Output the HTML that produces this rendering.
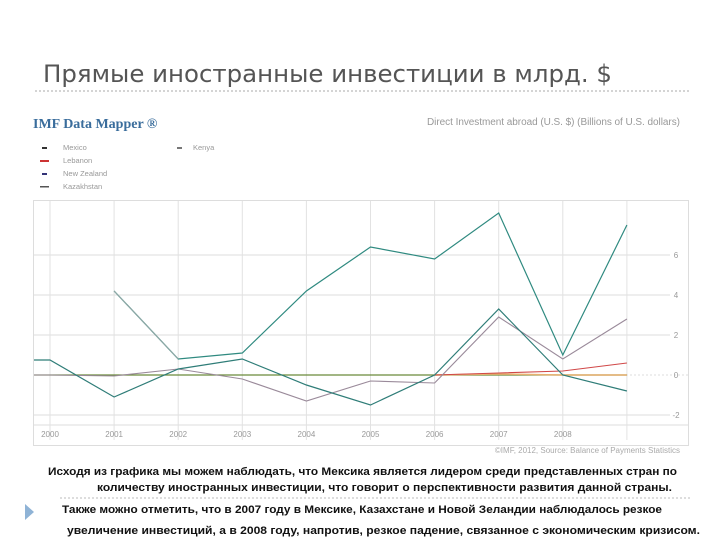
<!DOCTYPE html>
<html><head><meta charset="utf-8"><style>
body{margin:0;background:#fff;}
svg{display:block;font-family:"Liberation Sans",sans-serif;}
</style></head><body>
<svg width="720" height="540" viewBox="0 0 720 540">
<text x="43" y="82" font-family="DejaVu Sans, Liberation Sans, sans-serif" font-size="24" fill="#555" textLength="569" lengthAdjust="spacingAndGlyphs">Прямые иностранные инвестиции в млрд. $</text>
<line x1="35" y1="91" x2="690" y2="91" stroke="#aaa" stroke-dasharray="2,2"/>
<text x="33" y="128" font-family="Liberation Serif, serif" font-weight="bold" font-size="14" fill="#3a6d9c">IMF Data Mapper ®</text>
<text x="427" y="125" font-size="10" fill="#999" textLength="253">Direct Investment abroad (U.S. $) (Billions of U.S. dollars)</text>
<g font-size="7.5" fill="#999">
<rect x="42" y="147" width="5" height="2" fill="#333"/><text x="63" y="150">Mexico</text>
<rect x="40" y="160" width="9" height="2" fill="#c33"/><text x="63" y="163">Lebanon</text>
<rect x="42" y="173" width="5" height="2" fill="#337"/><text x="63" y="176">New Zealand</text>
<rect x="40" y="186" width="9" height="1.5" fill="#555"/><text x="63" y="189">Kazakhstan</text>
<rect x="177" y="147" width="5" height="2" fill="#777"/><text x="193" y="150">Kenya</text>
</g>
<rect x="33.5" y="200.5" width="655" height="245" fill="none" stroke="#ddd"/>
<g id="chart"></g>
<text x="680" y="453" font-size="8" fill="#aaa" text-anchor="end">©IMF, 2012, Source: Balance of Payments Statistics</text>
<g font-size="11" font-weight="bold" fill="#111">
<text x="48" y="475" textLength="629" lengthAdjust="spacingAndGlyphs">Исходя из графика мы можем наблюдать, что Мексика является лидером среди представленных стран по</text>
<text x="97" y="491" textLength="575" lengthAdjust="spacingAndGlyphs">количеству иностранных инвестиции, что говорит о перспективности развития данной страны.</text>
<line x1="60" y1="498" x2="690" y2="498" stroke="#bbb" stroke-dasharray="2,2"/>
<text x="62" y="513" textLength="600" lengthAdjust="spacingAndGlyphs">Также можно отметить, что в 2007 году в Мексике, Казахстане и Новой Зеландии наблюдалось резкое</text>
<text x="67" y="534" textLength="633" lengthAdjust="spacingAndGlyphs">увеличение инвестиций, а в 2008 году, напротив, резкое падение, связанное с экономическим кризисом.</text>
</g>
<polygon points="25,504 34,512 25,520" fill="#8fb3d6"/>
</svg>
<script>
const years=["2000","2001","2002","2003","2004","2005","2006","2007","2008","2009"];
const yTicks=[-2,0,2,4,6];
const mexico=[null,4.2,0.8,1.1,4.2,6.4,5.8,8.1,1.0,7.5];
const newZealand=[0.75,-1.1,0.3,0.8,-0.5,-1.5,0.0,3.3,0.0,-0.8];
const kazakhstan=[0.0,-0.05,0.3,-0.2,-1.3,-0.3,-0.4,2.9,0.8,2.8];
const lebanon=[null,null,null,null,null,null,0.0,0.1,0.2,0.6];
const kenya=[null,null,null,null,null,null,0.0,0.05,0.0,0.0];
const flat=[0,0,0,0,0,0,0,0,0,0];
const NS="http://www.w3.org/2000/svg";
const g=document.getElementById('chart');
const xs=i=>50+i*64.1;
const ys=v=>375-v*20;
function mk(t,a){const e=document.createElementNS(NS,t);for(const k in a)e.setAttribute(k,a[k]);g.appendChild(e);return e;}
yTicks.forEach(v=>{
 const l=mk('line',{x1:34,x2:v===0?688:670,y1:ys(v),y2:ys(v),stroke:'#ddd','stroke-dasharray':v===0?'2,2':'none'});
 
 
 const t=mk('text',{x:676,y:ys(v)+3,'font-size':8,fill:'#999','text-anchor':'middle'});
 t.textContent=v;
 
 
});
const ax=mk('line',{x1:34,x2:688,y1:425,y2:425,stroke:'#ddd'});


years.forEach((y,i)=>{
 const l=mk('line',{x1:xs(i),x2:xs(i),y1:201,y2:440,stroke:'#e2e2e2'});
 
 
 if(i<9){const t=mk('text',{x:xs(i),y:437,'font-size':8,fill:'#999','text-anchor':'middle'});
 t.textContent=y;
 
 }
});
function series(arr,color,name,w,startX){
 let pts=[];
 if(startX!==undefined&&arr[0]!==null)pts.push(startX+','+ys(arr[0]));
 arr.forEach((v,i)=>{if(v!==null)pts.push(xs(i)+','+ys(v));});
 const p=mk('polyline',{points:pts.join(' '),fill:'none',stroke:color,'stroke-width':w||1.2});
 
 
}
series(flat,'#6a8a3a','line-flat-zero',1.3,34);
series(kenya,'#e8b070','line-kenya',1.5);
series(lebanon,'#d04848','line-lebanon',1.1);
series(kazakhstan,'#9a8a9a','line-kazakhstan',1.1,34);
series(newZealand,'#2f7d78','line-new-zealand',1.2,34);
series(mexico,'#2f8a80','line-mexico',1.2);
const seg=mk('line',{x1:xs(1),y1:ys(mexico[1]),x2:xs(2),y2:ys(mexico[2]),stroke:'#8fa8a6','stroke-width':1.2});


</script>
</body></html>
